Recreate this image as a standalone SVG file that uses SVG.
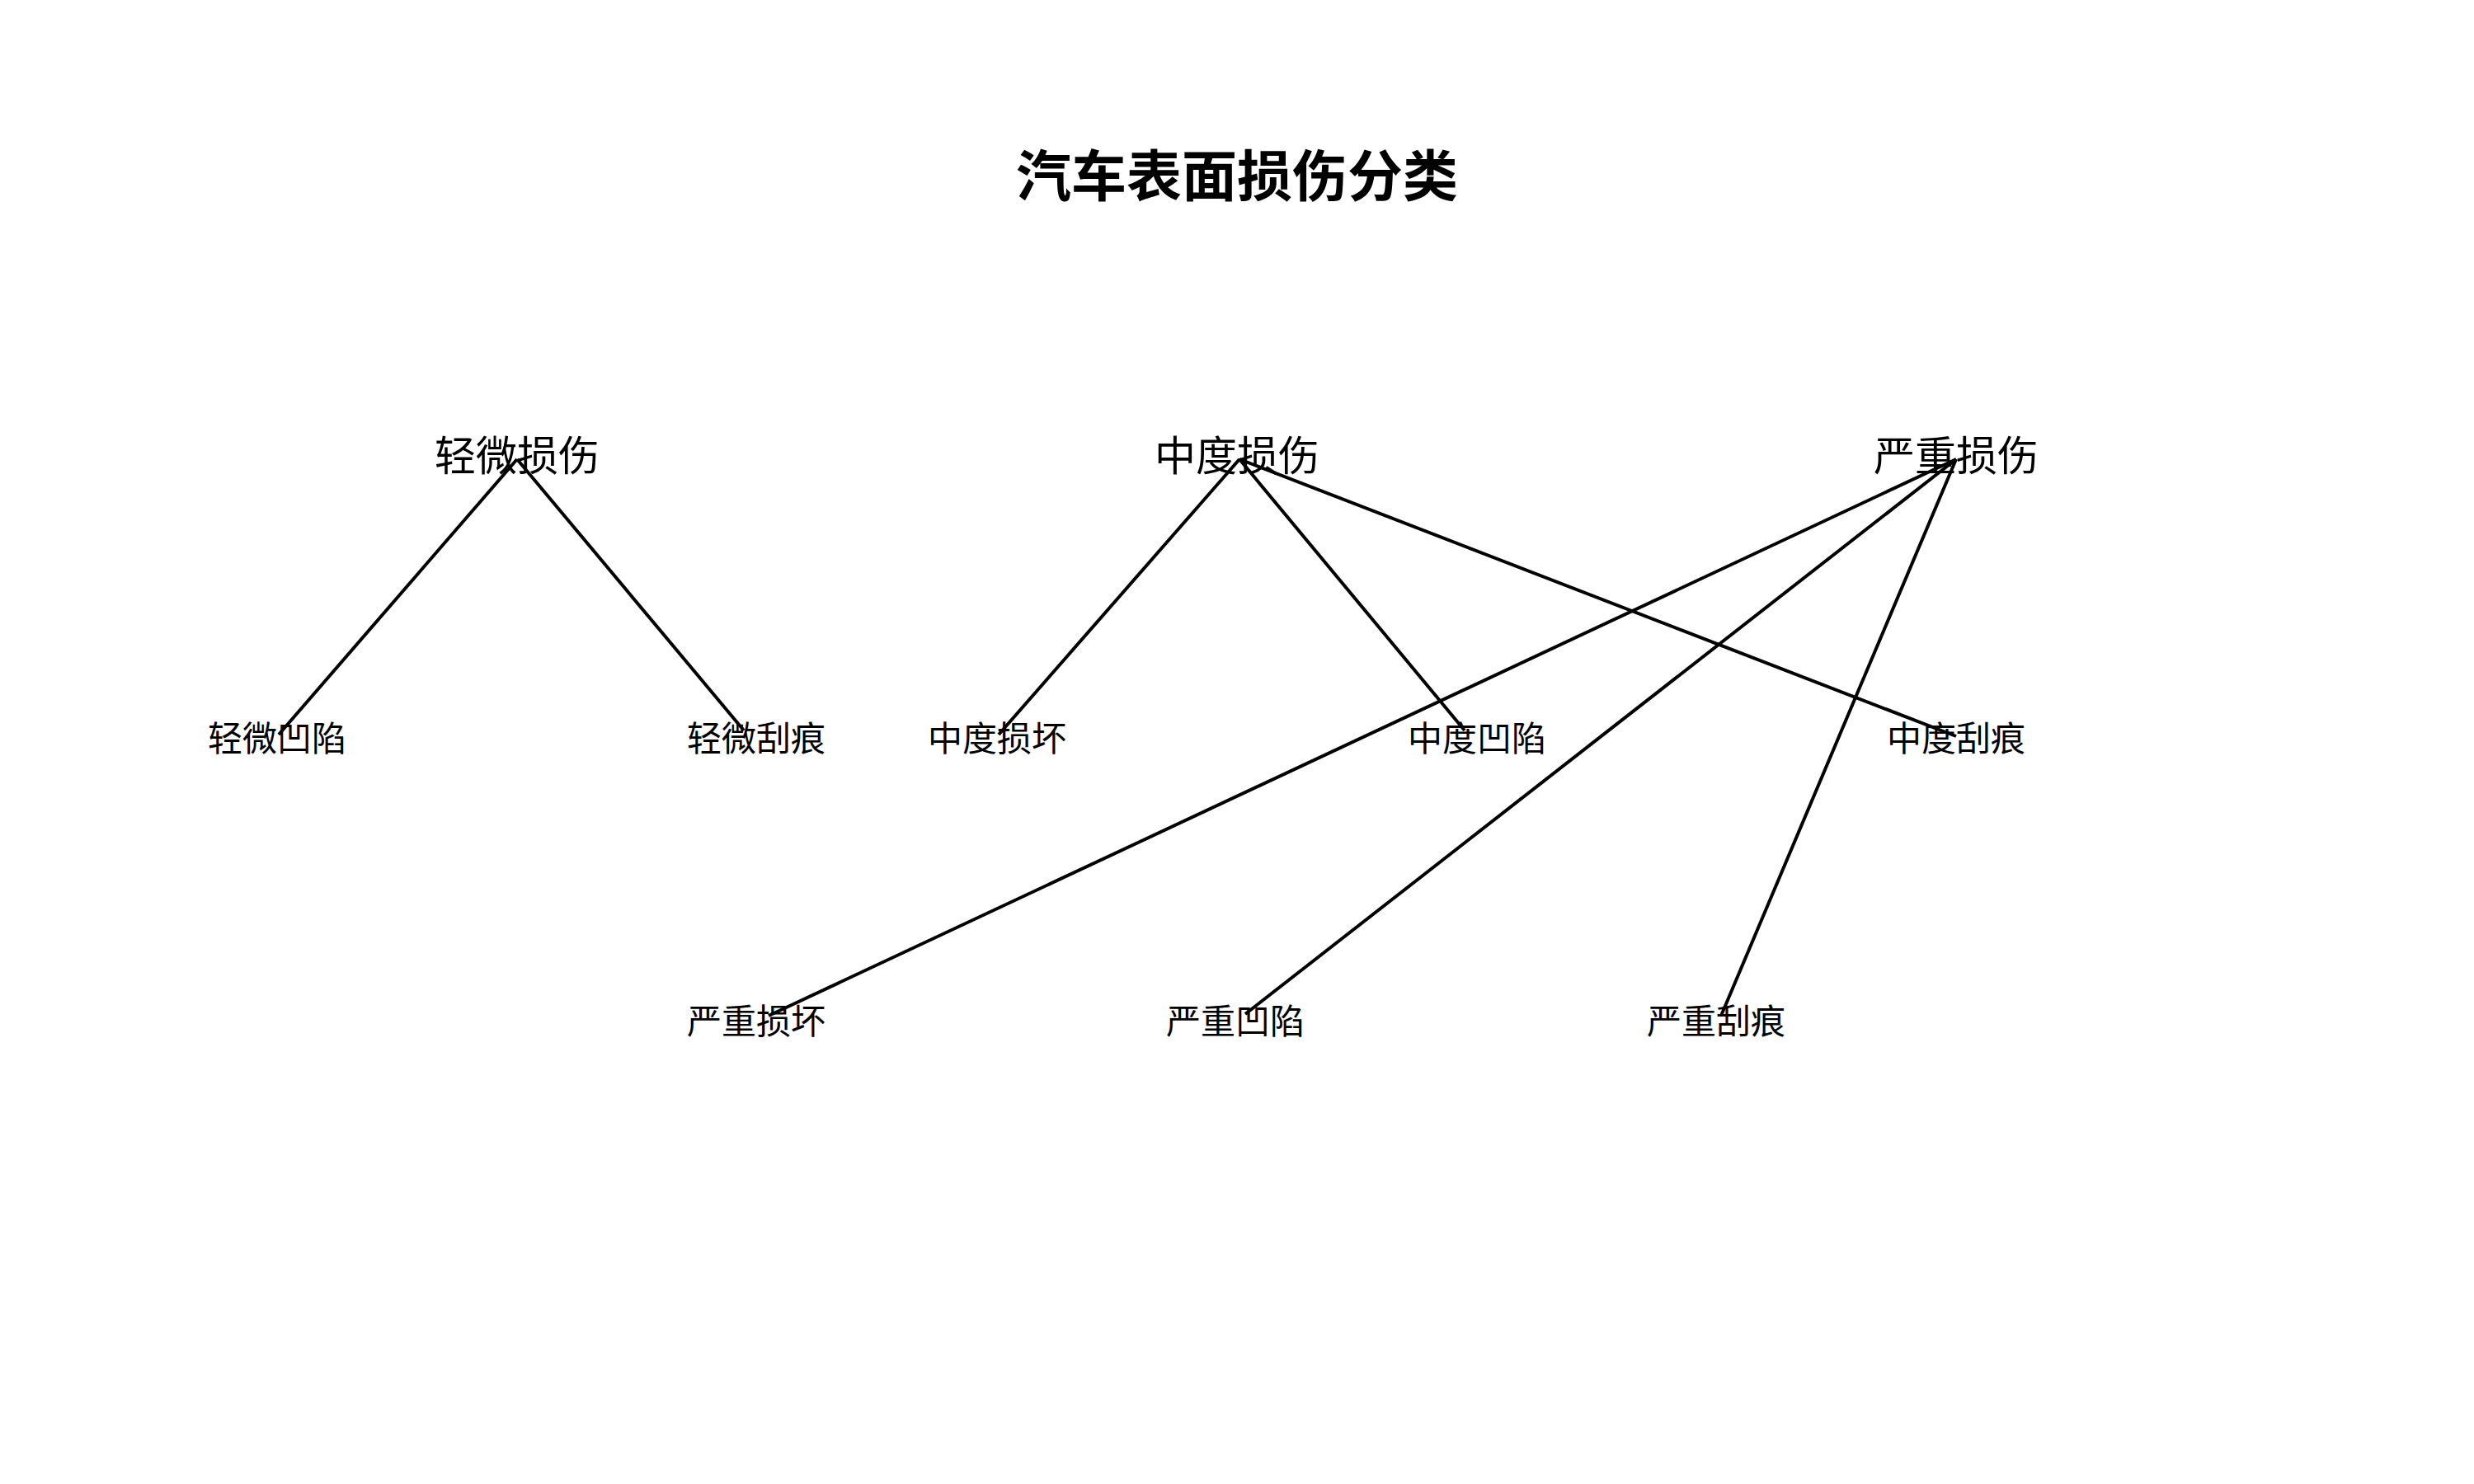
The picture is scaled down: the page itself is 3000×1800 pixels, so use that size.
<svg xmlns="http://www.w3.org/2000/svg" width="3000" height="1800" viewBox="0 0 3000 1800">
<style>
text{font-family:"Noto Sans CJK SC","Noto Sans",sans-serif;fill:#000;text-anchor:middle;dominant-baseline:central}
.title{font-size:67px;font-weight:bold}
.l1{font-size:50px}
.l2{font-size:42px}
.edge{stroke:#000;stroke-width:4;fill:none}
</style>
<rect width="3000" height="1800" fill="#fff"/>
<text class="title" x="1500" y="208">汽车表面损伤分类</text>
<g id="edges">
<line class="edge" x1="627" y1="557" x2="338" y2="891"/>
<line class="edge" x1="627" y1="557" x2="902" y2="886"/>
<line class="edge" x1="1503" y1="557" x2="1211" y2="891"/>
<line class="edge" x1="1503" y1="557" x2="1776" y2="886"/>
<line class="edge" x1="1503" y1="557" x2="2372" y2="893"/>
<line class="edge" x1="2372" y1="557" x2="932" y2="1232"/>
<line class="edge" x1="2372" y1="557" x2="1510" y2="1230"/>
<line class="edge" x1="2372" y1="557" x2="2087" y2="1232"/>
</g>
<g id="n_light"><text class="l1" x="627" y="549">轻微损伤</text></g>
<g id="n_medium"><text class="l1" x="1500" y="549">中度损伤</text></g>
<g id="n_severe"><text class="l1" x="2372" y="549">严重损伤</text></g>
<g id="n_light_dent"><text class="l2" x="336" y="892">轻微凹陷</text></g>
<g id="n_light_scratch"><text class="l2" x="917" y="892">轻微刮痕</text></g>
<g id="n_medium_damage"><text class="l2" x="1209" y="892">中度损坏</text></g>
<g id="n_medium_dent"><text class="l2" x="1791" y="892">中度凹陷</text></g>
<g id="n_medium_scratch"><text class="l2" x="2372" y="892">中度刮痕</text></g>
<g id="n_severe_damage"><text class="l2" x="917" y="1235">严重损坏</text></g>
<g id="n_severe_dent"><text class="l2" x="1498" y="1235">严重凹陷</text></g>
<g id="n_severe_scratch"><text class="l2" x="2081" y="1235">严重刮痕</text></g>
</svg>
